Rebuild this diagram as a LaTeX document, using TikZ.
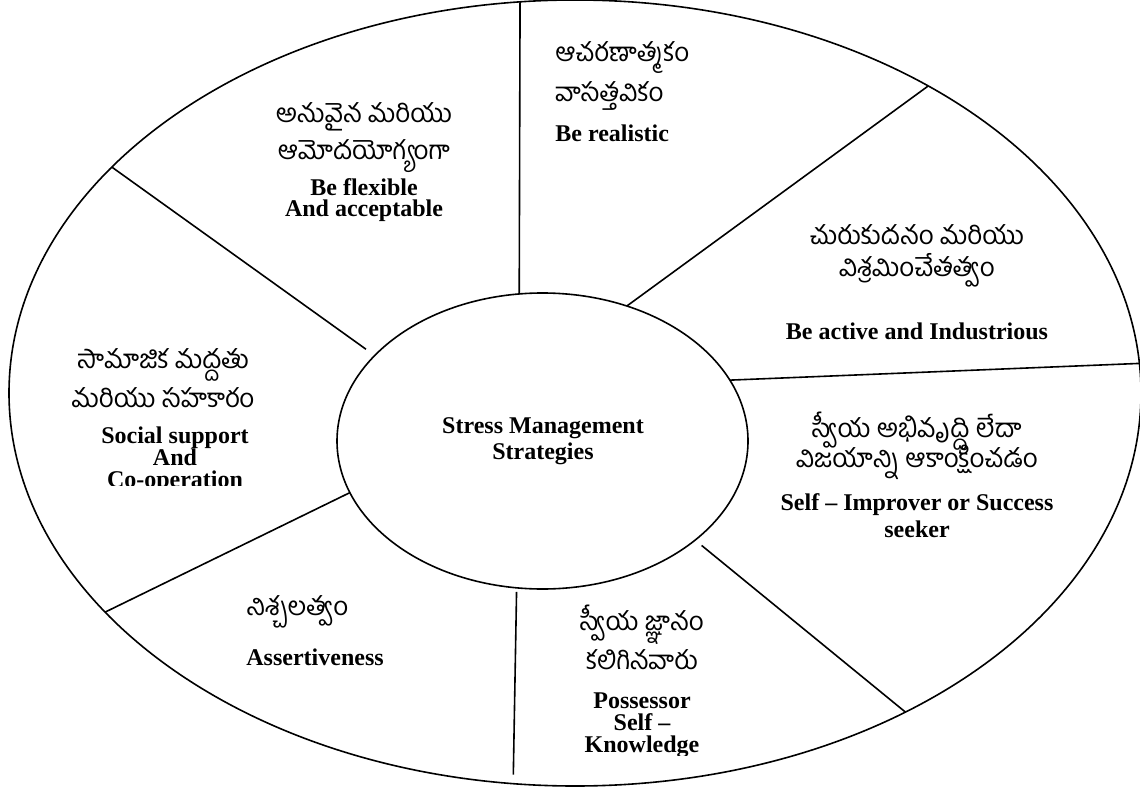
\documentclass[tikz,border=0pt]{standalone}
\usepackage{fontspec}
\setmainfont{Liberation Serif}
\newfontfamily\telugu[Script=Telugu]{Hind Guntur}
\usepackage{tikz}
\usetikzlibrary{shapes.geometric}
\tikzstyle{ring} = [draw, ellipse, line width=0.8pt, inner sep=0pt, outer sep=0pt]
\tikzstyle{spoke} = [line width=0.8pt]
\tikzstyle{tel} = [font=\telugu\fontsize{13}{16}\selectfont, anchor=base, inner sep=0pt, text height=9pt, text depth=2.5pt]
\tikzstyle{eng} = [font=\bfseries\fontsize{12}{12}\selectfont, anchor=base, inner sep=0pt, text height=7.5pt, text depth=1.5pt]

\begin{document}
\begin{tikzpicture}[x=0.5pt, y=-0.5pt]
        \useasboundingbox (0,0) rectangle (1140,791);

        % Outer and inner ellipse
        \node at (575,393) [ring, minimum width=566pt, minimum height=393pt] (outer) {};
        \node at (542.5,441) [ring, minimum width=205.5pt, minimum height=148pt] (inner) {};

        % Spokes, clockwise from the top
        \draw[spoke] (inner.99.4) -- (outer.98.25);
        \draw[spoke] (inner.58.6) -- (outer.41);
        \draw[spoke] (inner.18.3) -- (outer.3.96);
        \draw[spoke, shorten <=4.2pt] (inner.327.3) -- (outer.316.8);
        \draw[spoke, shorten <=2pt, shorten >=4.5pt] (inner.260.8) -- (outer.261.5);
        \draw[spoke] (inner.195.4) -- (outer.205.7);
        \draw[spoke, shorten <=5.4pt] (inner.153.9) -- (outer.154.2);

        % Centre
        \node at (543,433) [eng] (centre1) {Stress Management};
        \node at (543,459) [eng] (centre2) {Strategies};

        % Be flexible
        \node at (364,123) [tel] (flex1) {అనువైన మరియు};
        \node at (364,160) [tel] (flex2) {ఆమోదయోగ్యంగా};
        \node at (364,196) [eng] (flex3) {Be flexible};
        \node at (364,217) [eng] (flex4) {And acceptable};

        % Be realistic
        \node at (555,62) [tel, anchor=base west] (real1) {ఆచరణాత్మకం};
        \node at (555,102) [tel, anchor=base west] (real2) {వాసత్తవికం};
        \node at (555,142) [eng, anchor=base west] (real3) {Be realistic};

        % Be active
        \node at (917,245) [tel] (active1) {చురుకుదనం మరియు};
        \node at (917,277) [tel] (active2) {విశ్రమించేతత్వం};
        \node at (917,339) [eng] (active3) {Be active and Industrious};

        % Self improver
        \node at (917,437) [tel] (improve1) {స్వీయ అభివృద్ధి లేదా};
        \node at (917,467) [tel] (improve2) {విజయాన్ని ఆకాంక్షించడం};
        \node at (917,510) [eng] (improve3) {Self – Improver or Success};
        \node at (917,537) [eng] (improve4) {seeker};

        % Self knowledge
        \node at (642,630) [tel] (know1) {స్వీయ జ్ఞానం};
        \node at (642,669) [tel] (know2) {కలిగినవారు};
        \node at (642,708) [eng] (know3) {Possessor};
        \node at (642,730) [eng] (know4) {Self –};
        \begin{scope}
            \clip (0,0) rectangle (1140,755);
            \node at (642,752) [eng] (know5) {Knowledge};
        \end{scope}

        % Assertiveness
        \node at (246,615) [tel, anchor=base west] (assert1) {నిశ్చలత్వం};
        \node at (246,665) [eng, anchor=base west] (assert2) {Assertiveness};

        % Social support
        \node at (163,368) [tel] (social1) {సామాజిక మద్దతు};
        \node at (163,407) [tel] (social2) {మరియు సహకారం};
        \node at (175,443) [eng] (social3) {Social support};
        \node at (175,465) [eng] (social4) {And};
        \begin{scope}
            \clip (0,0) rectangle (1140,485);
            \node at (175,487) [eng] (social5) {Co-operation};
        \end{scope}

\end{tikzpicture}
\end{document}
